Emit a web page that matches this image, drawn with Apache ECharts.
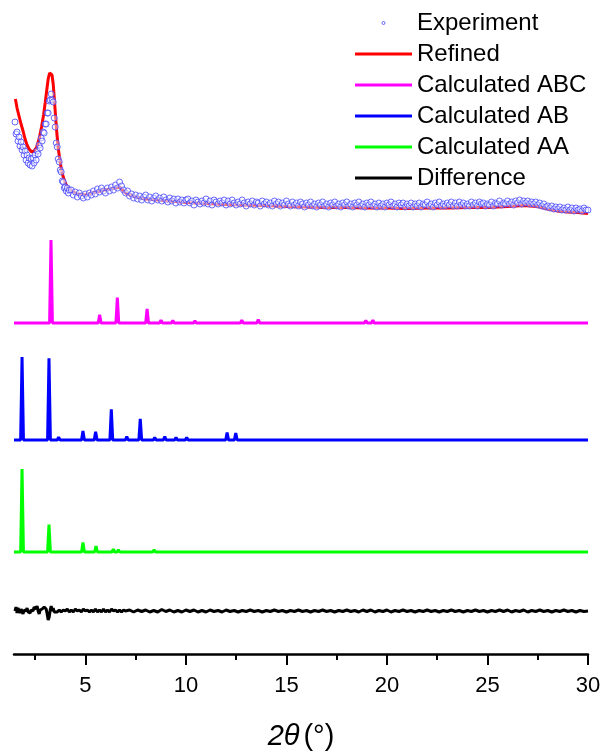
<!DOCTYPE html>
<html>
<head>
<meta charset="utf-8">
<script src="https://cdn.jsdelivr.net/npm/echarts@6/dist/echarts.min.js"></script>
<style>
  html, body { margin: 0; padding: 0; background: #fff; }
  #chart { width: 603px; height: 751px; }
</style>
</head>
<body>
<div id="chart"></div>
<script>
// X axis: 2θ range and tick positions
const thetaMin = 1.45;
const thetaMax = 30;
const majorTicks = [5, 10, 15, 20, 25, 30];
const minorTicks = [2.5, 7.5, 12.5, 17.5, 22.5, 27.5];

// Measured pattern: [2θ, counts (a.u.)]
const experiment = [
  [1.50,112],[1.55,100],[1.60,102],[1.65,93],[1.70,97],[1.75,88],[1.80,92],[1.85,84],[1.90,87],[1.95,79],
  [2.00,83],[2.05,74],[2.10,79],[2.15,71],[2.20,76],[2.25,69],[2.30,75],[2.35,68],[2.40,76],[2.45,71],
  [2.50,79],[2.55,74],[2.60,83],[2.65,80],[2.70,89],[2.75,86],[2.80,96],[2.85,93],[2.90,102],[2.95,101],
  [3.00,110],[3.05,110],[3.10,121],[3.15,121],[3.20,133],[3.25,134],[3.30,140],[3.35,134],[3.40,132],[3.45,116],
  [3.50,107],[3.55,91],[3.60,87],[3.65,75],[3.70,72],[3.75,64],[3.80,62],[3.85,53],[3.90,52],[3.95,46],
  [4.00,47],[4.05,43],[4.10,46],[4.15,41],[4.20,44],
  [4.3,44],[4.4,39],[4.5,42],[4.6,37],[4.7,41],[4.8,38],[4.9,36],[5.0,40],[5.1,37],[5.2,41],
  [5.3,39],[5.4,43],[5.5,40],[5.6,45],[5.7,42],[5.8,46],[5.9,43],[6.0,41],[6.1,46],[6.2,43],
  [6.3,47],[6.4,44],[6.5,49],[6.6,46],[6.7,52],[6.8,48],[6.9,44],[7.0,41],[7.1,43],[7.2,38],
  [7.3,40],[7.4,36],[7.5,39],[7.6,35],[7.7,38],[7.8,34],[7.9,37],[8.0,39],[8.1,34],[8.2,37],
  [8.3,33],[8.4,36],[8.5,38],[8.6,34],[8.7,36],[8.8,33],[8.9,37],[9.0,34],[9.1,32],[9.2,36],
  [9.3,33],[9.4,35],[9.5,31],[9.6,35],[9.7,32],[9.8,34],[9.9,31],[10.0,34],
  [10.1,35],[10.2,31],[10.3,33],[10.4,29],[10.5,34],[10.6,32],[10.7,30],[10.8,33],[10.9,31],[11.0,35],
  [11.1,30],[11.2,33],[11.3,29],[11.4,34],[11.5,32],[11.6,30],[11.7,33],[11.8,31],[11.9,34],[12.0,29],
  [12.1,33],[12.2,30],[12.3,34],[12.4,31],[12.5,29],[12.6,32],[12.7,30],[12.8,34],[12.9,31],[13.0,28],
  [13.1,32],[13.2,30],[13.3,33],[13.4,29],[13.5,32],[13.6,31],[13.7,28],[13.8,33],[13.9,30],[14.0,32],
  [14.1,29],[14.2,31],[14.3,28],[14.4,33],[14.5,30],[14.6,32],[14.7,28],[14.8,31],[14.9,29],[15.0,33],
  [15.1,30],[15.2,28],[15.3,32],[15.4,29],[15.5,31],[15.6,28],[15.7,32],[15.8,30],[15.9,27],[16.0,31],
  [16.1,29],[16.2,32],[16.3,28],[16.4,30],[16.5,27],[16.6,31],[16.7,29],[16.8,32],[16.9,28],[17.0,30],
  [17.1,27],[17.2,31],[17.3,29],[17.4,32],[17.5,28],[17.6,30],[17.7,27],[17.8,31],[17.9,29],[18.0,32],
  [18.1,28],[18.2,30],[18.3,27],[18.4,31],[18.5,29],[18.6,32],[18.7,28],[18.8,30],[18.9,27],[19.0,31],
  [19.1,29],[19.2,32],[19.3,28],[19.4,30],[19.5,27],[19.6,31],[19.7,28],[19.8,30],[19.9,27],[20.0,31],
  [20.1,29],[20.2,32],[20.3,28],[20.4,30],[20.5,27],[20.6,31],[20.7,29],[20.8,31],[20.9,27],[21.0,30],
  [21.1,28],[21.2,31],[21.3,27],[21.4,30],[21.5,28],[21.6,31],[21.7,27],[21.8,30],[21.9,29],[22.0,32],
  [22.1,28],[22.2,30],[22.3,27],[22.4,31],[22.5,29],[22.6,32],[22.7,28],[22.8,30],[22.9,28],[23.0,31],
  [23.1,29],[23.2,32],[23.3,28],[23.4,31],[23.5,28],[23.6,32],[23.7,29],[23.8,31],[23.9,28],[24.0,30],
  [24.1,28],[24.2,32],[24.3,29],[24.4,31],[24.5,28],[24.6,32],[24.7,30],[24.8,31],[24.9,28],[25.0,30],
  [25.1,29],[25.2,32],[25.3,28],[25.4,31],[25.5,30],[25.6,33],[25.7,29],[25.8,31],[25.9,30],[26.0,33],
  [26.1,30],[26.2,32],[26.3,29],[26.4,33],[26.5,31],[26.6,34],[26.7,30],[26.8,33],[26.9,31],[27.0,33],
  [27.1,30],[27.2,32],[27.3,30],[27.4,32],[27.5,29],[27.6,31],[27.7,28],[27.8,30],[27.9,27],[28.0,28],
  [28.1,26],[28.2,28],[28.3,25],[28.4,27],[28.5,25],[28.6,27],[28.7,24],[28.8,26],[28.9,24],[29.0,27],
  [29.1,24],[29.2,26],[29.3,23],[29.4,26],[29.5,24],[29.6,25],[29.7,23],[29.8,26],[29.9,24],[30.0,24]
];

// Refined profile: [2θ, counts (a.u.)]
const refined = [
  [1.52,135],[1.6,126],[1.7,118],[1.8,110],[1.9,103],[2.0,95],[2.1,89],[2.2,85],[2.33,82],[2.45,83],
  [2.58,87],[2.7,95],[2.82,107],[2.92,119],[3.0,131],[3.08,144],[3.15,155],[3.22,161],[3.28,162],[3.34,159],
  [3.40,150],[3.46,134],[3.52,117],[3.58,101],[3.65,86],[3.71,77],[3.8,65],[3.9,57],[4.0,51],[4.1,47],
  [4.3,43],[4.6,40],[5.0,39],[5.5,42],[6.0,44],[6.5,46],[6.7,47],[7.0,41],[7.5,37],[8.0,35],
  [9.0,33.5],[10.0,31.5],[11,30.5],[12,29.5],[13,29],[14,28.5],[15,27.5],[16,27],[17,26.5],[18,26.5],
  [19,26],[20,26],[21,25.5],[22,26],[23,26],[24,26.5],[25,26.5],[26,27.5],[26.8,28.5],[27.5,27.5],
  [28,25],[28.5,23],[29,22],[29.5,21.5],[30,20.5]
];

// Calculated reflections: [2θ, relative intensity (max 100)]
const peaksABC = [
  [3.29,100],[5.71,10],[6.59,30.5],[7.35,2],[8.07,17],[8.76,3.5],[9.35,3],[9.92,1.5],[10.45,2.5],
  [11.95,1],[12.78,3.5],[13.6,4],[14.39,1.2],[14.82,1.2],[17.4,0.6],[18.95,3],[19.3,3.5],[20.2,1],
  [22.5,0.5],[26.8,0.6]
];
const peaksAB = [
  [1.85,100],[3.19,98.5],[3.67,3.5],[4.88,11],[5.51,10],[6.29,37],[7.06,4],[7.73,25.5],[8.45,3],
  [8.95,4],[9.51,3],[10.04,3],[11.04,0.6],[11.5,0.8],[12.05,9],[12.48,8.5],[12.94,2],[13.31,1.8],
  [13.67,2.4],[14.5,0.8],[16.3,0.6],[18.3,0.8],[19.8,0.6],[24.5,0.8],[26.9,0.5]
];
const peaksAA = [
  [1.85,100],[3.19,33],[4.88,11.5],[5.53,7],[6.39,3.5],[6.64,2.5],[7.39,1.2],[8.05,1.2],[8.42,2.5],
  [9.71,0.6],[10.29,0.6],[11.53,0.6],[12.94,0.6],[15.9,0.5],[21.8,0.4],[24.9,0.4]
];

// Difference (observed − refined): [2θ, counts (a.u.)]
const difference = [
  [1.50,0],[1.55,4],[1.60,-2],[1.65,3],[1.70,1],[1.75,-2],[1.80,2],[1.85,0],[1.90,-3],[1.95,1],
  [2.00,3],[2.05,0],[2.10,3],[2.15,-1],[2.20,1],[2.25,-2],[2.30,1],[2.35,3],[2.40,0],[2.45,4],
  [2.50,6],[2.55,2],[2.60,5],[2.65,0],[2.70,-3],[2.75,1],[2.80,-1],[2.85,2],[2.90,0],[2.95,4],
  [3.00,6],[3.05,2],[3.10,-3],[3.15,-9],[3.20,-6],[3.25,1],[3.30,5],[3.35,0],[3.40,3],[3.45,-1],[3.50,1],
  [3.6,-1],[3.7,1],[3.8,-1],[3.9,1],[4.0,0],[4.1,2],[4.2,-1],[4.3,1],[4.4,-1],[4.5,2],
  [4.6,0],[4.7,1],[4.8,-1],[4.9,2],[5.0,0],[5.1,1],[5.2,-1],[5.3,1],[5.4,-1],[5.5,2],
  [5.6,-1],[5.7,1],[5.8,-1],[5.9,2],[6.0,-1],[6.1,1],[6.2,-1],[6.3,2],[6.4,0],[6.5,1],
  [6.6,-1],[6.7,1],[6.8,-1],[6.9,1],[7.0,0],
  [7.2,1],[7.4,-1],[7.6,1],[7.8,-0.5],[8.0,1],[8.2,-1],[8.4,0.5],[8.6,-1],[8.8,1.5],[9.0,-0.5],
  [9.2,1],[9.4,-1],[9.6,0.5],[9.8,-1],[10.0,1],[10.2,-0.5],[10.4,1],[10.6,-1],[10.8,0.5],[11.0,-1],
  [11.2,1],[11.4,-0.5],[11.6,0.5],[11.8,-1],[12.0,1],[12.2,-0.5],[12.4,0.5],[12.6,-1],[12.8,0.5],[13.0,-0.5],
  [13.2,1],[13.4,-0.5],[13.6,0.5],[13.8,-1],[14.0,0.5],[14.2,-0.5],[14.4,1],[14.6,-0.5],[14.8,0.5],[15.0,-1],
  [15.2,0.5],[15.4,-0.5],[15.6,1],[15.8,-0.5],[16.0,0.5],[16.2,-1],[16.4,0.5],[16.6,-0.5],[16.8,1],[17.0,-0.5],
  [17.2,0.5],[17.4,-1],[17.6,0.5],[17.8,-0.5],[18.0,1],[18.2,-0.5],[18.4,0.5],[18.6,-1],[18.8,1],[19.0,-0.5],
  [19.2,1],[19.4,-1],[19.6,0.5],[19.8,-0.5],[20.0,1],[20.2,-1],[20.4,0.5],[20.6,-0.5],[20.8,1],[21.0,-0.5],
  [21.2,0.5],[21.4,-1],[21.6,0.5],[21.8,-0.5],[22.0,1],[22.2,-0.5],[22.4,0.5],[22.6,-1],[22.8,0.5],[23.0,-0.5],
  [23.2,1],[23.4,-0.5],[23.6,0.5],[23.8,-1],[24.0,0.5],[24.2,-0.5],[24.4,1],[24.6,-0.5],[24.8,0.5],[25.0,-1],
  [25.2,0.5],[25.4,-0.5],[25.6,1],[25.8,-0.5],[26.0,1],[26.2,-1],[26.4,0.5],[26.6,-0.5],[26.8,1],[27.0,-1],
  [27.2,0.5],[27.4,-0.5],[27.6,1],[27.8,-0.5],[28.0,0.5],[28.2,-1],[28.4,0.5],[28.6,-0.5],[28.8,1],[29.0,-0.5],
  [29.2,0.5],[29.4,-1],[29.6,0.5],[29.8,-0.5],[30.0,0]
];

// Vertical stacking of the traces (a.u.)
const OFFSET_EXP = 420;
const OFFSET_ABC = 331;
const OFFSET_AB = 214;
const OFFSET_AA = 102;
const OFFSET_DIFF = 43;
const CALC_SCALE = 0.83;   // relative intensity → a.u.
const PEAK_HALF_WIDTH = 0.07;

function shift(points, offset) {
  return points.map(p => [p[0], p[1] + offset]);
}

// Turn a reflection list into a line trace sitting on its own baseline
function peakTrace(peaks, offset) {
  const out = [[thetaMin, offset]];
  peaks.slice().sort((a, b) => a[0] - b[0]).forEach(([pos, h]) => {
    out.push([pos - PEAK_HALF_WIDTH, offset]);
    out.push([pos, offset + h * CALC_SCALE]);
    out.push([pos + PEAK_HALF_WIDTH, offset]);
  });
  out.push([thetaMax, offset]);
  return out;
}

const FONT = '"Liberation Sans", Arial, Helvetica, sans-serif';
const EXP_BLUE = '#4646ff';

function lineSeries(name, color, data, width) {
  return {
    name, type: 'line', data,
    showSymbol: false, symbol: 'none',
    lineStyle: { color, width },
    itemStyle: { color },
    z: 2
  };
}

const chart = echarts.init(document.getElementById('chart'), null, { renderer: 'canvas' });

chart.setOption({
  animation: false,
  backgroundColor: '#ffffff',
  grid: { left: 14, right: 15, top: 0, bottom: 97, containLabel: false, outerBoundsMode: 'none' },
  legend: {
    orient: 'vertical',
    left: 355,
    top: 11,
    padding: 0,
    itemWidth: 57,
    itemHeight: 3,
    itemGap: 7,
    selectedMode: false,
    textStyle: { fontFamily: FONT, fontSize: 24, color: '#000', lineHeight: 24 },
    data: [
      { name: 'Experiment', icon: 'circle',
        itemStyle: { color: 'rgba(0,0,0,0)', borderColor: EXP_BLUE, borderWidth: 1 } },
      { name: 'Refined', icon: 'rect' },
      { name: 'Calculated ABC', icon: 'rect' },
      { name: 'Calculated AB', icon: 'rect' },
      { name: 'Calculated AA', icon: 'rect' },
      { name: 'Difference', icon: 'rect' }
    ]
  },
  xAxis: [
    {
      type: 'value',
      min: thetaMin,
      max: thetaMax,
      position: 'bottom',
      name: '{i|2θ}{s| }{n|(°)}',
      nameLocation: 'middle',
      nameGap: 68,
      nameTextStyle: {
        rich: {
          i: { fontFamily: FONT, fontSize: 29, fontStyle: 'italic', color: '#000' },
          s: { fontFamily: FONT, fontSize: 14, color: '#000' },
          n: { fontFamily: FONT, fontSize: 29, color: '#000' }
        }
      },
      axisLine: { show: true, onZero: false, lineStyle: { color: '#000', width: 2.5 } },
      axisTick: { show: true, inside: false, length: 11, customValues: majorTicks,
                  lineStyle: { color: '#000', width: 2 } },
      axisLabel: { show: true, margin: 21, customValues: majorTicks,
                   fontFamily: FONT, fontSize: 22, color: '#000' },
      splitLine: { show: false }
    },
    {
      type: 'value',
      min: thetaMin,
      max: thetaMax,
      position: 'bottom',
      axisLine: { show: false, onZero: false },
      axisTick: { show: true, inside: false, length: 6, customValues: minorTicks,
                  lineStyle: { color: '#000', width: 2 } },
      axisLabel: { show: false },
      splitLine: { show: false }
    }
  ],
  yAxis: {
    type: 'value', min: 0, max: 654, show: false,
    splitLine: { show: false }
  },
  series: [
    lineSeries('Refined', '#ff0000', shift(refined, OFFSET_EXP), 3),
    {
      name: 'Experiment',
      type: 'scatter',
      data: shift(experiment, OFFSET_EXP),
      symbol: 'circle',
      symbolSize: 6,
      itemStyle: { color: 'rgba(255,255,255,0.55)', borderColor: EXP_BLUE, borderWidth: 1 },
      z: 3
    },
    lineSeries('Calculated ABC', '#ff00ff', peakTrace(peaksABC, OFFSET_ABC), 3),
    lineSeries('Calculated AB', '#0000ff', peakTrace(peaksAB, OFFSET_AB), 3),
    lineSeries('Calculated AA', '#00ff00', peakTrace(peaksAA, OFFSET_AA), 3),
    lineSeries('Difference', '#000000', shift(difference, OFFSET_DIFF), 3)
  ]
});
</script>
</body>
</html>
